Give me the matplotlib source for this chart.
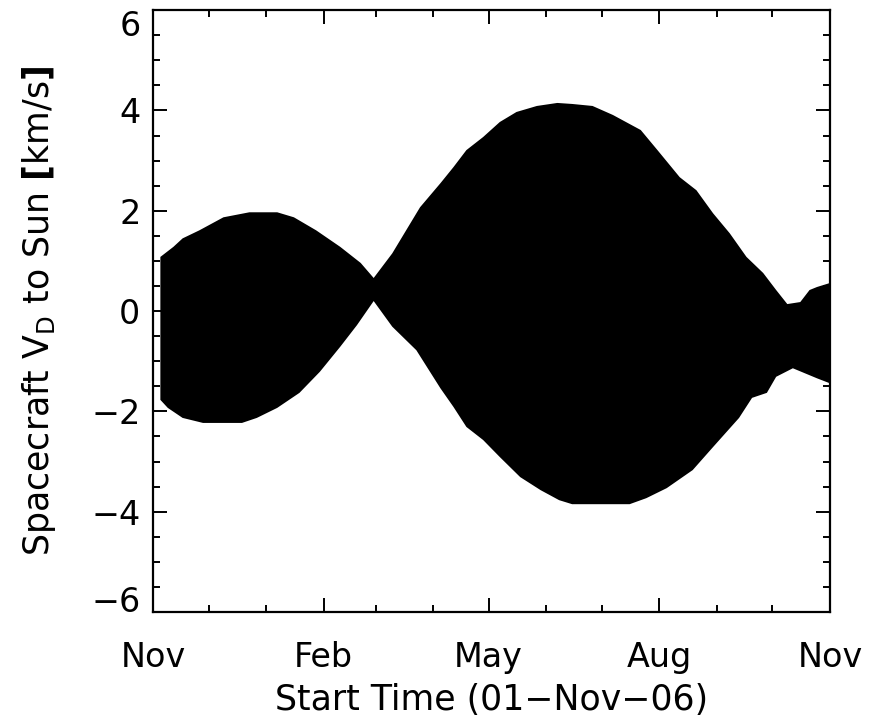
import matplotlib
matplotlib.use('Agg')
import matplotlib.pyplot as plt
import numpy as np
import datetime as dt

# envelope of the spacecraft Doppler velocity, days since 01-Nov-2006
start = dt.date(2006, 11, 1)
upper_day = [4, 11, 16, 25, 38, 52, 67, 76, 88, 101, 112, 119, 129, 144, 155,
             162, 169, 178, 187, 196, 207, 218, 226, 237, 248, 263, 272, 284,
             293, 302, 311, 320, 329, 336, 342, 349, 354, 358, 365]
upper_val = [1.08, 1.28, 1.45, 1.61, 1.87, 1.97, 1.97, 1.87, 1.61, 1.28, 0.96,
             0.66, 1.15, 2.07, 2.55, 2.87, 3.21, 3.47, 3.77, 3.97, 4.09, 4.15,
             4.13, 4.09, 3.91, 3.61, 3.21, 2.67, 2.41, 1.95, 1.55, 1.08, 0.76,
             0.42, 0.14, 0.18, 0.42, 0.48, 0.56]
lower_day = [4, 8, 16, 27, 48, 56, 67, 79, 90, 101, 110, 119, 129, 142, 155,
             162, 169, 178, 187, 198, 209, 219, 226, 257, 266, 277, 291, 302,
             316, 323, 331, 336, 345, 358, 365]
lower_val = [-1.77, -1.93, -2.13, -2.23, -2.23, -2.13, -1.93, -1.63, -1.21,
             -0.71, -0.28, 0.2, -0.31, -0.78, -1.54, -1.91, -2.31, -2.57,
             -2.91, -3.31, -3.57, -3.77, -3.85, -3.85, -3.73, -3.53, -3.17,
             -2.71, -2.13, -1.73, -1.63, -1.31, -1.14, -1.34, -1.44]

month_names = ['Nov', 'Feb', 'May', 'Aug', 'Nov']

plt.rcParams['font.family'] = ['DejaVu Sans']
plt.rcParams['mathtext.default'] = 'regular'

fig = plt.figure(figsize=(8.74, 7.26), dpi=100)
ax = fig.add_axes([0.175, 0.157, 0.7746, 0.829])

xs = np.concatenate([upper_day, lower_day[::-1]])
ys = np.concatenate([upper_val, lower_val[::-1]])
ax.fill(xs, ys, color='black', lw=0)

ax.set_xlim(0, 365)
ax.set_ylim(-6, 6)

def month_offset(y, m):
  return (dt.date(y, m, 1) - start).days

major = [month_offset(2006, 11), month_offset(2007, 2), month_offset(2007, 5),
         month_offset(2007, 8), month_offset(2007, 11)]
minor = [month_offset(2006 + (10 + k) // 12, (10 + k) % 12 + 1) for k in range(13)]
ax.set_xticks(major)
ax.set_xticklabels(month_names)
ax.set_xticks(minor, minor=True)
ax.set_yticks(np.arange(-6, 7, 2))
ax.set_yticks(np.arange(-6, 6.01, 0.5), minor=True)

ax.tick_params(which='both', direction='in', top=True, right=True, width=1.4, colors='black')
ax.tick_params(which='major', length=10, labelsize=24)
ax.tick_params(axis='x', which='major', pad=21)
ax.tick_params(axis='y', which='major', pad=9)
ax.tick_params(which='minor', length=5)
for s in ax.spines.values():
  s.set_linewidth(1.6)

# IDL keeps the end labels inside the axis range
ylabels = ax.get_yticklabels()
ylabels[0].set_verticalalignment('baseline')
ylabels[-1].set_verticalalignment('top')

ax.set_xlabel('Start Time (01\u2212Nov\u221206)', fontsize=25, labelpad=6)
ax.set_ylabel('Spacecraft V$_D$ to Sun $\\mathbf{[}$km/s$\\mathbf{]}$', fontsize=25)
ax.yaxis.set_label_coords(-0.14, 0.5)

fig.savefig('out.png', dpi=100)
